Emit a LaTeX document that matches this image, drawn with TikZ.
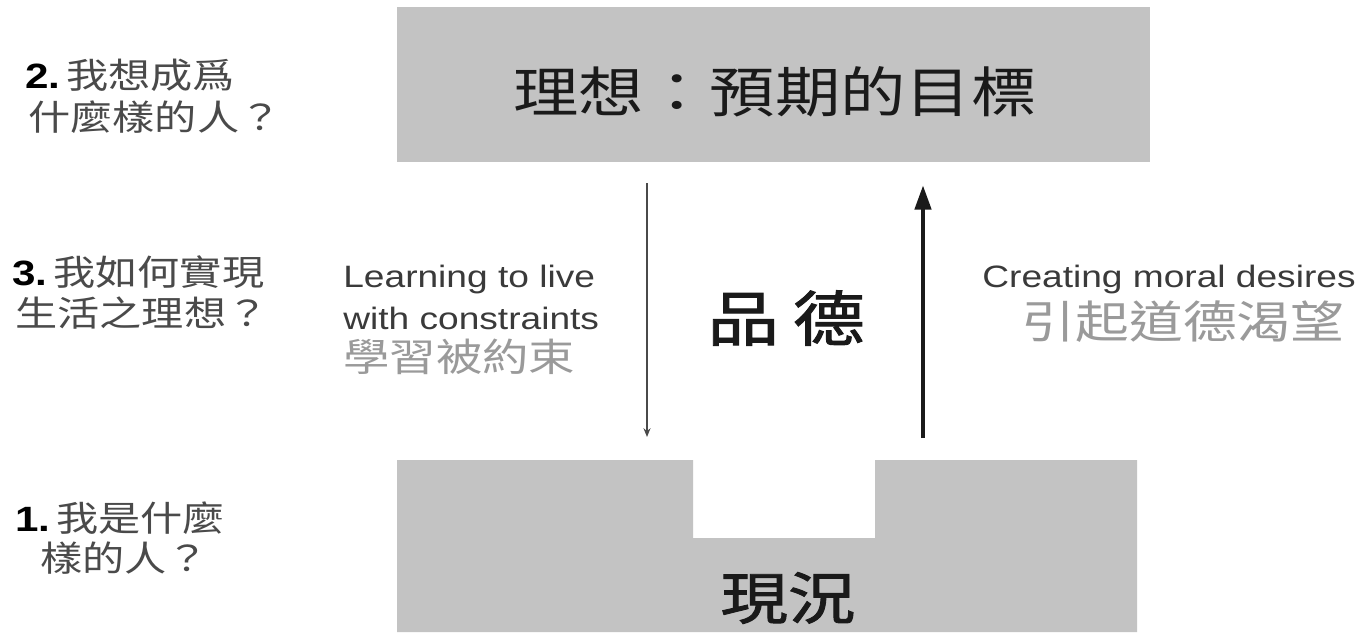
\documentclass[tikz,border=0pt]{standalone}
\usepackage{fontspec}
\setmainfont[FakeStretch=1.2]{Liberation Sans}
\newfontfamily\cjk[FakeStretch=1.2]{Noto Sans CJK TC}
\newfontfamily\cjkmed[FakeStretch=1.2,FakeBold=1.6]{Noto Sans CJK TC}
\usetikzlibrary{arrows.meta}
\definecolor{boxgray}{HTML}{C3C3C3}
\definecolor{lblc}{HTML}{4A4A4A}
\definecolor{engc}{HTML}{3A3A3A}
\definecolor{softc}{HTML}{9A9A9A}
\definecolor{inkc}{HTML}{1A1A1A}
\tikzset{
  question/.style={anchor=west, inner sep=0pt, text=lblc, font=\cjk\fontsize{20}{24}\selectfont},
  engtext/.style={inner sep=0pt, text=engc, font=\fontsize{17.6}{22}\selectfont},
  softtext/.style={inner sep=0pt, text=softc},
  bigtext/.style={inner sep=0pt, text=inkc},
  graybox/.style={fill=boxgray, draw=none},
  thinarrow/.style={draw=lblc, line width=1.3pt, -{Stealth[length=5pt,width=4pt]}},
  thickarrow/.style={draw=inkc, line width=2.8pt, -{Triangle[length=14pt,width=9pt]}}
}
\newcommand{\qnum}[1]{{\rmfamily\bfseries\color{black}#1}\,}
\begin{document}
\begin{tikzpicture}[x=0.02cm,y=-0.02cm]
\useasboundingbox (0,0) rectangle (1362,632);
\fill[white] (0,0) rectangle (1362,632);
% boxes
\node[graybox, minimum width=753*0.02cm, minimum height=155*0.02cm, anchor=north west, inner sep=0pt] (ideal) at (397,7) {};
\path[graybox] (397,460) -- (693,460) -- (693,538) -- (875,538) -- (875,460) -- (1137,460) -- (1137,632) -- (397,632) -- cycle;
% box texts
\node[bigtext, font=\cjk\fontsize{31}{36}\selectfont] (idealtxt) at (775,92) {理想：預期的目標};
\node[bigtext, font=\cjkmed\fontsize{34}{38}\selectfont] (virtue) at (786,318) {品\hspace{8pt}德};
\node[bigtext, font=\cjkmed\fontsize{32}{36}\selectfont] (realtxt) at (788,598) {現況};
% arrows
\coordinate (la1) at (647,183);
\coordinate (la2) at (647,437);
\coordinate (ra1) at (923,438);
\coordinate (ra2) at (923,185);
\draw[thinarrow] (la1) -- (la2);
\draw[thickarrow] (ra1) -- (ra2);
% left questions
\node[question] (q2a) at (25,75) {\qnum{2.}我想成爲};
\node[question] (q2b) at (28,117) {什麼樣的人？};
\node[question] (q3a) at (12,272) {\qnum{3.}我如何實現};
\node[question] (q3b) at (15,313) {生活之理想？};
\node[question] (q1a) at (15,518) {\qnum{1.}我是什麼};
\node[question] (q1b) at (40,558) {樣的人？};
% arrow labels
\node[engtext, anchor=west] (l1) at (343,280) {Learning to live};
\node[engtext, anchor=west] (l2) at (343,318) {with constraints};
\node[softtext, anchor=west, font=\cjk\fontsize{22}{26}\selectfont] (l3) at (343,357) {學習被約束};
\node[engtext, anchor=east] (r1) at (1356,280) {Creating moral desires};
\node[softtext, font=\cjk\fontsize{25.5}{30}\selectfont] (r2) at (1183,322) {引起道德渴望};
\end{tikzpicture}
\end{document}
